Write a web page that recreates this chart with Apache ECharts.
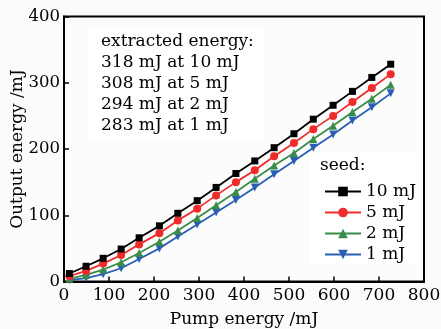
<!DOCTYPE html>
<html>
<head>
<meta charset="utf-8">
<script src="https://cdn.jsdelivr.net/npm/echarts@6/dist/echarts.min.js"></script>
<style>
html,body{margin:0;padding:0;background:#fbfbfb;}
#c{width:441px;height:329px;}
</style>
</head>
<body>
<div id="c"></div>
<script>
const pumpEnergy = [12, 49, 87, 127, 167, 212, 253, 296, 338, 382, 424, 467, 511, 554, 598, 641, 684, 726];
const seed10 = [12, 23, 35, 49, 66, 84, 103, 122, 142, 163, 182, 202, 223, 245, 266, 287, 308, 328];
const seed5  = [8, 16, 27, 40, 56, 73, 92, 110, 130, 150, 168, 189, 209, 230, 250, 271, 292, 313];
const seed2  = [4, 10, 18, 29, 43, 60, 77, 96, 115, 135, 155, 175, 194, 215, 235, 256, 276, 297];
const seed1  = [2, 5, 11, 20, 34, 50, 68, 86, 104, 123, 142, 162, 182, 202, 222, 243, 263, 284];
const seriesNames = ['10 mJ', '5 mJ', '2 mJ', '1 mJ'];
const annotationLines = ['extracted energy:', '318 mJ at 10 mJ', '308 mJ at 5 mJ', '294 mJ at 2 mJ', '283 mJ at 1 mJ'];
const legendTitle = 'seed:';
const xTicks = [0, 100, 200, 300, 400, 500, 600, 700, 800];
const yTicks = [0, 100, 200, 300, 400];

const FONT = 'DejaVu Serif';
const colors = ['#000000', '#f02c2a', '#3a8c48', '#2a5fb5'];
const symbols = ['rect', 'circle', 'triangle', 'triangle'];
const sizes = [7, 8, 8, 8];
const rotates = [0, 0, 0, 180];
const values = [seed10, seed5, seed2, seed1];

const chart = echarts.init(document.getElementById('c'), null, {renderer: 'canvas'});
const series = values.map((v, i) => ({
  name: seriesNames[i],
  type: 'line',
  data: pumpEnergy.map((x, j) => [x, v[j]]),
  symbol: symbols[i],
  symbolSize: sizes[i],
  symbolRotate: rotates[i],
  showAllSymbol: true,
  lineStyle: {color: colors[i], width: 1.8},
  itemStyle: {color: colors[i]},
  z: 10 - i,
  animation: false
}));

chart.setOption({
  animation: false,
  backgroundColor: '#fbfbfb',
  grid: {left: 64, right: 17, top: 16.5, bottom: 47.5, containLabel: false, outerBoundsMode: 'none',
         show: true, borderColor: '#000', borderWidth: 2, backgroundColor: '#fcfcfc'},
  xAxis: {
    type: 'value', min: xTicks[0], max: xTicks[xTicks.length - 1], interval: 100,
    name: 'Pump energy /mJ', nameLocation: 'middle', nameGap: 30, nameMoveOverlap: false,
    nameTextStyle: {fontFamily: FONT, fontSize: 17, color: '#000'},
    axisLine: {lineStyle: {color: '#000', width: 2}},
    axisTick: {inside: true, length: 5, lineStyle: {color: '#000', width: 1.5}},
    axisLabel: {fontFamily: FONT, fontSize: 17, color: '#000', margin: 6},
    splitLine: {show: false}
  },
  yAxis: {
    type: 'value', min: yTicks[0], max: yTicks[yTicks.length - 1], interval: 100,
    name: 'Output energy /mJ', nameLocation: 'middle', nameGap: 38, nameMoveOverlap: false,
    nameTextStyle: {fontFamily: FONT, fontSize: 17, color: '#000'},
    axisLine: {lineStyle: {color: '#000', width: 2}},
    axisTick: {inside: true, length: 5, lineStyle: {color: '#000', width: 1.5}},
    axisLabel: {fontFamily: FONT, fontSize: 16.5, color: '#000', margin: 4},
    splitLine: {show: false}
  },
  legend: {
    orient: 'vertical', left: 320, top: 183,
    itemWidth: 36, itemHeight: 12, itemGap: 4,
    data: seriesNames,
    textStyle: {fontFamily: FONT, fontSize: 17, color: '#000', padding: [0, 0, 0, 0]},
    backgroundColor: '#ffffff', padding: [0, 4, 0, 4],
    selectedMode: false
  },
  graphic: [
    {type: 'rect', left: 88, top: 27, shape: {width: 175, height: 112}, style: {fill: '#ffffff'}, silent: true, z: 1},
    {type: 'rect', left: 309, top: 152, shape: {width: 106, height: 112}, style: {fill: '#ffffff'}, silent: true, z: 1},
    {type: 'text', left: 320, top: 157, style: {text: legendTitle, font: '17px "DejaVu Serif"', fill: '#000'}, z: 50},
    ...annotationLines.map((t, i) => ({
      type: 'text', left: 101, top: 33 + i * 21,
      style: {text: t, font: '17px "DejaVu Serif"', fill: '#000'}, z: 50
    }))
  ],
  series: series
});
</script>
</body>
</html>
